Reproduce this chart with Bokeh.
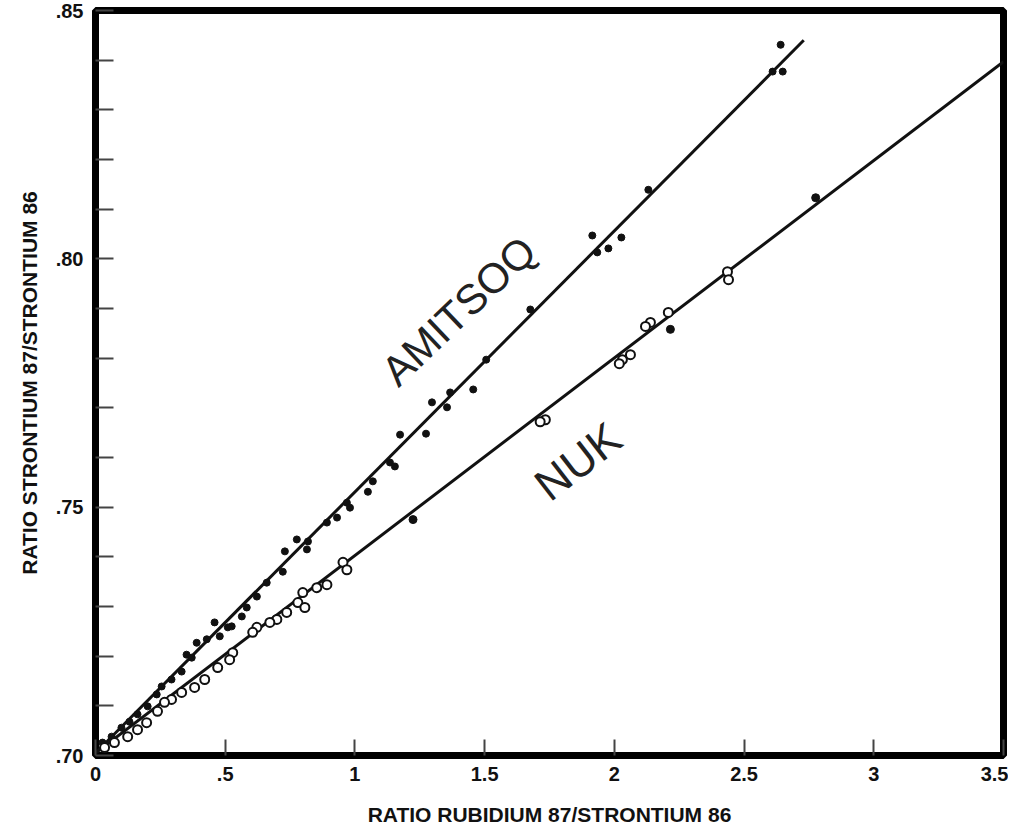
from bokeh.plotting import figure
from bokeh.models import FixedTicker, CustomJSTickFormatter, Range1d
from bokeh.core.properties import value
from bokeh.embed import file_html
from bokeh.resources import INLINE

# ---- data ----
amitsoq_x = [2.641, 2.610, 2.649, 2.131, 1.915, 2.027, 1.977, 1.934, 1.676, 1.506,
             1.456, 1.367, 1.355, 1.297, 1.174, 1.274, 1.135, 1.154, 1.069, 1.050,
             0.969, 0.981, 0.931, 0.892, 0.819, 0.815, 0.776, 0.730, 0.722, 0.660,
             0.622, 0.583, 0.525, 0.459, 0.479, 0.564, 0.510, 0.429, 0.390, 0.351,
             0.371, 0.332, 0.293, 0.255, 0.236, 0.201, 0.162, 0.131, 0.100, 0.062,
             0.027]
amitsoq_y = [0.8431, 0.8377, 0.8377, 0.8139, 0.8047, 0.8043, 0.8021, 0.8013, 0.7898, 0.7797,
             0.7737, 0.7731, 0.7701, 0.7711, 0.7646, 0.7648, 0.7590, 0.7582, 0.7552, 0.7531,
             0.7509, 0.7499, 0.7479, 0.7469, 0.7431, 0.7415, 0.7435, 0.7411, 0.7370, 0.7348,
             0.7320, 0.7298, 0.7260, 0.7268, 0.7240, 0.7280, 0.7258, 0.7234, 0.7227, 0.7203,
             0.7197, 0.7169, 0.7153, 0.7139, 0.7123, 0.7099, 0.7083, 0.7068, 0.7056, 0.7038,
             0.7026]

nuk_x = [2.436, 2.440, 2.208, 2.139, 2.120, 2.062, 2.031, 2.019, 1.734, 1.714,
         0.954, 0.969, 0.892, 0.853, 0.799, 0.780, 0.807, 0.737, 0.699, 0.672,
         0.622, 0.606, 0.529, 0.517, 0.471, 0.421, 0.382, 0.332, 0.293, 0.266,
         0.239, 0.197, 0.162, 0.124, 0.073, 0.035]
nuk_y = [0.7974, 0.7958, 0.7892, 0.7872, 0.7864, 0.7807, 0.7797, 0.7789, 0.7676, 0.7672,
         0.7389, 0.7374, 0.7344, 0.7338, 0.7328, 0.7308, 0.7298, 0.7288, 0.7274, 0.7268,
         0.7258, 0.7248, 0.7207, 0.7193, 0.7177, 0.7153, 0.7137, 0.7127, 0.7113, 0.7107,
         0.7089, 0.7066, 0.7052, 0.7038, 0.7026, 0.7016]
nuk_filled_x = [2.776, 2.216, 1.224]
nuk_filled_y = [0.8123, 0.7858, 0.7475]

amitsoq_fit_x = [0.0, 2.73]
amitsoq_fit_y = [0.7005, 0.8440]
nuk_fit_x = [0.0, 3.5]
nuk_fit_y = [0.7005, 0.8397]

x_ticks = [0, 0.5, 1, 1.5, 2, 2.5, 3, 3.5]
y_ticks = [0.70, 0.75, 0.80, 0.85]
y_minor_ticks = [0.71, 0.72, 0.73, 0.74, 0.76, 0.77, 0.78, 0.79, 0.81, 0.82, 0.83, 0.84]

FONT = "Liberation Sans"

p = figure(output_backend="svg", toolbar_location=None,
           frame_width=908, frame_height=745,
           x_range=Range1d(0, 3.5), y_range=Range1d(0.70, 0.85),
           min_border_left=95, min_border_right=5, min_border_top=10, min_border_bottom=74)
p.background_fill_color = "white"
p.border_fill_color = "white"
p.outline_line_color = "black"
p.outline_line_width = 7
p.xgrid.visible = False
p.ygrid.visible = False

# fit lines
p.line(amitsoq_fit_x, amitsoq_fit_y, line_color="#111111", line_width=3)
p.line(nuk_fit_x, nuk_fit_y, line_color="#111111", line_width=3)

# points
p.scatter(amitsoq_x, amitsoq_y, size=7, marker="circle",
          fill_color="#111111", line_color="#111111", line_width=1)
p.scatter(nuk_x, nuk_y, size=9, marker="circle",
          fill_color="white", line_color="#111111", line_width=2)
p.scatter(nuk_filled_x, nuk_filled_y, size=8, marker="circle",
          fill_color="#111111", line_color="#111111", line_width=1)

# series labels
p.text(x=[1.40], y=[0.7895], text=["AMITSOQ"], angle=0.76,
       text_align="center", text_baseline="middle",
       text_font=value(FONT), text_font_size="42px", text_color="#222222")
p.text(x=[1.86], y=[0.7592], text=["NUK"], angle=0.66,
       text_align="center", text_baseline="middle",
       text_font=value(FONT), text_font_size="45px", text_color="#222222")

# x axis
xa = p.xaxis[0]
xa.ticker = FixedTicker(ticks=x_ticks)
xa.formatter = CustomJSTickFormatter(code="""
    var s = String(Math.round(tick*10)/10);
    return s.replace(/^0\\./, '.');
""")
xa.axis_line_color = None
xa.major_tick_in = 16
xa.major_tick_out = 0
xa.major_tick_line_color = "#444444"
xa.major_tick_line_width = 2
xa.minor_tick_line_color = None
xa.major_label_standoff = 11
xa.major_label_text_font = FONT
xa.major_label_text_font_style = "bold"
xa.major_label_text_font_size = "20px"
xa.major_label_text_color = "#111111"
xa.axis_label = "RATIO RUBIDIUM 87/STRONTIUM 86"
xa.axis_label_text_font = FONT
xa.axis_label_text_font_style = "bold"
xa.axis_label_text_font_size = "21px"
xa.axis_label_text_color = "#111111"
xa.axis_label_standoff = 19

# y axis
ya = p.yaxis[0]
ya.ticker = FixedTicker(ticks=y_ticks, minor_ticks=y_minor_ticks)
ya.formatter = CustomJSTickFormatter(code="""
    return tick.toFixed(2).replace(/^0/, '');
""")
ya.axis_line_color = None
ya.major_tick_in = 18
ya.major_tick_out = 0
ya.minor_tick_in = 18
ya.minor_tick_out = 0
ya.major_tick_line_color = "#444444"
ya.minor_tick_line_color = "#444444"
ya.major_tick_line_width = 2
ya.minor_tick_line_width = 2
ya.major_label_standoff = 12
ya.major_label_text_font = FONT
ya.major_label_text_font_style = "bold"
ya.major_label_text_font_size = "20px"
ya.major_label_text_color = "#111111"
ya.axis_label = "RATIO STRONTIUM 87/STRONTIUM 86"
ya.axis_label_text_font = FONT
ya.axis_label_text_font_style = "bold"
ya.axis_label_text_font_size = "21px"
ya.axis_label_text_color = "#111111"
ya.axis_label_standoff = 12

open("out.html", "w").write(file_html(p, INLINE))
